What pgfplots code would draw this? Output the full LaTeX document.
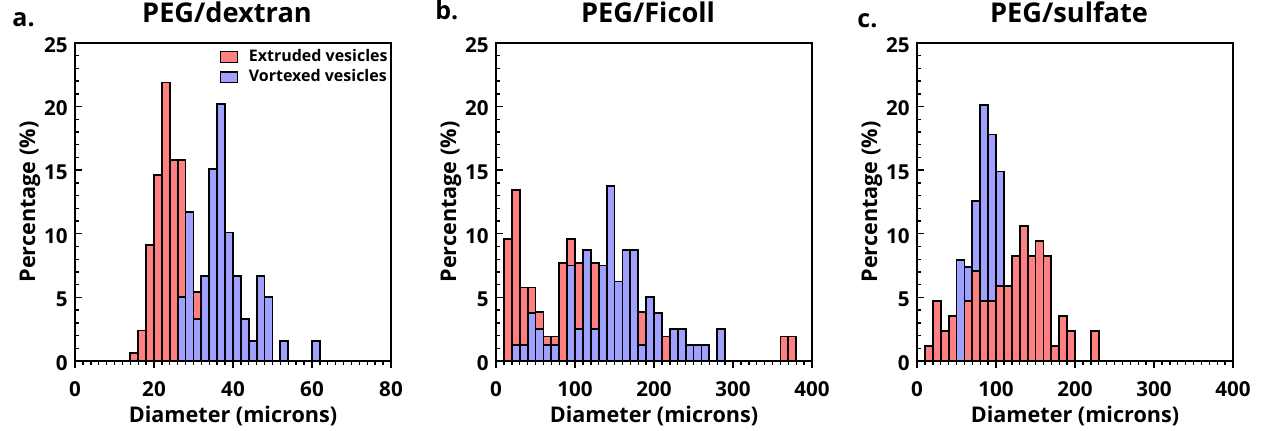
\documentclass[border=0pt]{standalone}
\usepackage{fontspec}
\setmainfont{Open Sans}
\usepackage{pgfplots}
\usepackage{pgfplotstable}
\pgfplotsset{compat=1.18}
\definecolor{exred}{RGB}{255,128,128}
\definecolor{vxblue}{RGB}{160,160,255}

\pgfplotstableread{
x r b
0 0 0
2 0 0
4 0 0
6 0 0
8 0 0
10 0 0
12 0 0
14 0.6 0
16 2.4 0
18 9.1 0
20 14.6 0
22 21.9 0
24 15.8 0
26 15.8 5.0
28 9.7 11.7
30 5.4 3.3
32 2.4 6.7
34 1.2 15.1
36 1.2 20.2
38 0 10.1
40 0 6.7
42 0 3.3
44 0 1.6
46 0 6.7
48 0 5.0
50 0 0
52 0 1.6
54 0 0
56 0 0
58 0 0
60 0 1.6
62 0 0
64 0 0
66 0 0
68 0 0
70 0 0
72 0 0
74 0 0
76 0 0
78 0 0
80 0 0
}\dataA

\pgfplotstableread{
x r b
0 0 0
10 9.62 0
20 13.46 1.25
30 5.77 1.25
40 5.77 3.75
50 3.85 2.5
60 1.92 1.25
70 1.92 1.25
80 7.69 0
90 9.62 7.5
100 7.69 2.5
110 5.77 8.75
120 7.69 2.5
130 0 7.5
140 3.85 13.75
150 1.92 6.25
160 1.92 8.75
170 0 8.75
180 3.85 1.25
190 0 5
200 1.92 3.75
210 1.92 0
220 0 2.5
230 0 2.5
240 0 1.25
250 0 1.25
260 0 1.25
270 0 0
280 0 2.5
290 0 0
300 0 0
310 0 0
320 0 0
330 0 0
340 0 0
350 0 0
360 1.92 0
370 1.92 0
380 0 0
390 0 0
400 0 0
}\dataB

\pgfplotstableread{
x r b
0 0 0
10 1.18 0
20 4.71 0
30 2.35 0
40 3.53 0
50 0 7.97
60 4.71 7.4
70 7.06 12.6
80 4.71 20.1
90 4.71 17.8
100 5.88 14.9
110 5.88 5.5
120 8.24 5.0
130 10.59 4.5
140 8.24 2.5
150 9.41 1.7
160 8.24 0
170 1.18 0
180 3.53 0
190 2.35 0
200 0 0
210 0 0
220 2.35 0
230 0 0
240 0 0
250 0 0
260 0 0
270 0 0
280 0 0
290 0 0
300 0 0
310 0 0
320 0 0
330 0 0
340 0 0
350 0 0
360 0 0
370 0 0
380 0 0
390 0 0
400 0 0
}\dataC

\pgfplotsset{
  panel/.style={
    scale only axis, width=158pt, height=159pt,
    anchor=south west,
    ymin=0, ymax=25, ytick={0,5,...,25}, minor y tick num=4,
    minor x tick num=9,
    xtick pos=left, ytick pos=left,
    tick align=inside,
    major tick length=3.3pt, minor tick length=1.8pt,
    tick style={black, line width=0.7pt},
    every major x tick/.append style={yshift=-3.3pt},
    every minor x tick/.append style={yshift=-1.8pt},
    axis line style={line width=1pt},
    clip=false,
    /pgf/number format/assume math mode=true,
    tick label style={font=\fontsize{10.3}{12}\selectfont\bfseries},
    xticklabel style={anchor=north, inner sep=0pt, yshift=-10pt},
    yticklabel style={anchor=east, inner sep=0pt, xshift=-3.5pt, yshift=-1pt},
    label style={font=\fontsize{10.8}{12}\selectfont\bfseries},
    xlabel={Diameter (microns)},
    ylabel={Percentage (\%)},
    xlabel style={at={(axis description cs:0.5,0)}, anchor=base, yshift=-31pt},
    ylabel style={at={(axis description cs:-0.1424,0.5)}, anchor=center},
    title style={font=\fontsize{13.6}{16}\selectfont\bfseries, at={(axis description cs:0.5,1)}, anchor=base, yshift=4pt, xshift=-3pt},
  },
  bars/.style={ybar interval, draw=black, line width=0.9pt, fill=#1,
    legend image code/.code={\draw[##1, line width=0.6pt] (0pt,-2.6pt) rectangle (8.5pt,2.6pt);}},
}

\begin{document}
\begin{tikzpicture}
\path[use as bounding box] (0,0) rectangle (630.5pt,215.5pt);

\begin{axis}[panel, at={(37.5pt,35pt)}, title={PEG/dextran},
  xmin=0, xmax=80, xtick={0,20,...,80},
  legend style={at={(axis description cs:1,1)}, anchor=north east, xshift=-1pt, yshift=-2.5pt,
    draw=none, fill=none, inner sep=0pt, column sep=5pt, row sep=1.5pt,
    font=\fontsize{8}{10}\selectfont\bfseries, nodes={inner sep=0.5pt}},
  legend cell align=left]
\addplot[bars=exred] table[x=x, y=r] {\dataA};
\addlegendentry{Extruded vesicles}
\addplot[bars=vxblue] table[x=x, y=b] {\dataA};
\addlegendentry{Vortexed vesicles}
\addplot[black, line width=1.4pt, forget plot] coordinates {(0,0) (80,0)};
\end{axis}

\begin{axis}[panel, at={(248pt,35pt)}, title={PEG/Ficoll},
  xmin=0, xmax=400, xtick={0,100,...,400}]
\addplot[bars=exred] table[x=x, y=r] {\dataB};
\addplot[bars=vxblue] table[x=x, y=b] {\dataB};
\addplot[black, line width=1.4pt, forget plot] coordinates {(0,0) (400,0)};
\end{axis}

\begin{axis}[panel, at={(458.5pt,35pt)}, title={PEG/sulfate},
  xmin=0, xmax=400, xtick={0,100,...,400}]
\addplot[bars=vxblue] table[x=x, y=b] {\dataC};
\addplot[bars=exred] table[x=x, y=r] {\dataC};
\addplot[black, line width=1.4pt, forget plot] coordinates {(0,0) (400,0)};
\end{axis}

\node[anchor=base west, inner sep=0pt, font=\fontsize{12.5}{15}\selectfont\bfseries] at (6pt,202pt) {a.};
\node[anchor=base west, inner sep=0pt, font=\fontsize{12.5}{15}\selectfont\bfseries] at (217.5pt,205.5pt) {b.};
\node[anchor=base west, inner sep=0pt, font=\fontsize{12.5}{15}\selectfont\bfseries] at (428.5pt,201.5pt) {c.};
\end{tikzpicture}
\end{document}
